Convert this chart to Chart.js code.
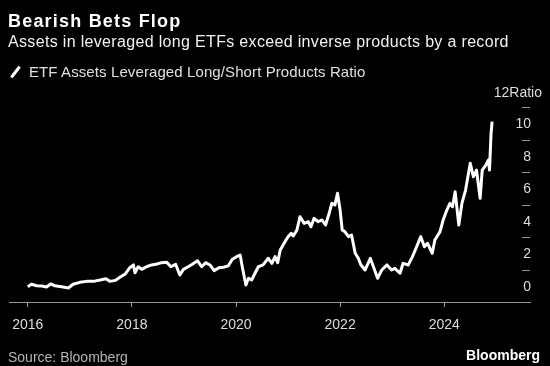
<!DOCTYPE html>
<html>
<head>
<meta charset="utf-8">
<script src="https://cdn.jsdelivr.net/npm/chart.js@4"></script>
<style>
  html,body{margin:0;padding:0;background:#000;}
  #wrap{position:relative;width:550px;height:366px;overflow:hidden;font-family:"Liberation Sans",Arial,sans-serif;}
  #chart{position:absolute;left:0;top:0;}
  .txt{position:absolute;white-space:nowrap;}
  #title{left:8px;top:12px;font-size:18px;line-height:18px;font-weight:bold;color:#fff;letter-spacing:1.2px;}
  #sub{left:8px;top:34px;font-size:16px;line-height:16px;color:#f2f2f2;letter-spacing:0.33px;}
  #legend{left:8px;top:64px;font-size:15px;line-height:15px;color:#e0e0e0;letter-spacing:0.1px;}
  #legend i{display:inline-block;width:3px;height:14px;background:#fff;border-radius:1px;transform:rotate(38deg);margin:0 12px 0 6px;vertical-align:-2px;}
  #source{left:8px;top:350px;font-size:14px;line-height:14px;color:#b4b4b4;}
  #brand{right:10px;top:348px;font-size:14px;line-height:14px;font-weight:bold;color:#fff;}
</style>
</head>
<body>
<div id="wrap">
  <canvas id="chart" width="550" height="366"></canvas>
  <div class="txt" id="title">Bearish Bets Flop</div>
  <div class="txt" id="sub">Assets in leveraged long ETFs exceed inverse products by a record</div>
  <div class="txt" id="legend"><i></i>ETF Assets Leveraged Long/Short Products Ratio</div>
  <div class="txt" id="source">Source: Bloomberg</div>
  <div class="txt" id="brand">Bloomberg</div>
</div>
<script>
// Data (decimal years, ratio)
const dates=[2016.00,2016.07,2016.17,2016.27,2016.36,2016.44,2016.52,2016.65,2016.78,2016.87,
  2017.00,2017.13,2017.26,2017.39,2017.50,2017.58,2017.68,2017.77,2017.87,2017.96,
  2018.03,2018.06,2018.12,2018.19,2018.28,2018.38,2018.48,2018.57,2018.67,2018.75,2018.84,2018.92,2018.99,
  2019.08,2019.16,2019.26,2019.34,2019.42,2019.50,2019.58,2019.67,2019.76,2019.85,2019.93,
  2020.01,2020.08,2020.12,2020.19,2020.24,2020.30,2020.37,2020.43,2020.52,2020.62,2020.69,2020.75,2020.80,2020.85,2020.94,
  2021.00,2021.06,2021.10,2021.17,2021.23,2021.31,2021.39,2021.44,2021.50,2021.58,2021.65,2021.72,2021.79,2021.84,2021.90,2021.95,
  2022.00,2022.04,2022.09,2022.16,2022.22,2022.29,2022.35,2022.40,2022.48,2022.58,2022.64,2022.72,2022.80,2022.90,2022.99,
  2023.05,2023.15,2023.21,2023.31,2023.39,2023.47,2023.55,2023.62,2023.68,2023.77,2023.82,2023.92,2023.98,
  2024.05,2024.11,2024.16,2024.21,2024.28,2024.34,2024.41,2024.50,2024.56,2024.62,2024.69,2024.73,2024.80,2024.85,2024.87,2024.90,2024.92];
const ratio=[0.94,1.09,1.00,0.98,0.92,1.11,1.00,0.94,0.86,1.09,
  1.21,1.27,1.27,1.35,1.43,1.27,1.33,1.52,1.72,2.11,
  2.28,1.80,2.17,2.01,2.17,2.28,2.34,2.42,2.44,2.17,2.32,1.66,2.01,
  2.17,2.32,2.54,2.17,2.42,2.28,1.93,2.11,2.14,2.22,2.63,
  2.79,2.89,2.17,1.05,1.46,1.35,1.80,2.17,2.28,2.69,2.38,2.79,2.42,3.20,3.71,
  4.02,4.23,4.06,4.43,5.25,4.84,4.94,4.63,5.15,4.94,5.05,4.74,5.46,6.07,5.97,6.69,
  5.66,4.43,4.33,4.02,4.12,3.00,2.69,2.28,1.97,2.69,2.17,1.46,1.97,2.28,1.97,
  2.07,1.77,2.38,2.28,2.79,3.40,4.02,3.40,3.61,3.00,3.82,4.33,5.05,
  5.66,6.07,5.86,6.79,4.74,6.07,6.89,8.54,7.71,8.12,6.38,8.12,8.43,8.74,8.12,10.38,11.10];
const xTicks=[2016,2018,2020,2022,2024];
const yTicks=[0,2,4,6,8,10,12];
const yUnit='Ratio';

const axisGray='#9a9a9a';
const labelGray='#dcdcdc';
const font={family:'"Liberation Sans", Arial, sans-serif',size:14};

// short grid stubs and unit label at the right
const rightAxis={
  id:'rightAxis',
  afterDraw(chart){
    const {ctx,chartArea,scales:{y}}=chart;
    ctx.save();
    ctx.strokeStyle=axisGray;ctx.lineWidth=1;
    yTicks.forEach(v=>{
      if(v===0) return;
      const py=Math.round(y.getPixelForValue(v))+0.5;
      ctx.beginPath();ctx.moveTo(chartArea.right-8,py);ctx.lineTo(chartArea.right,py);ctx.stroke();
    });
    const top=yTicks[yTicks.length-1];
    ctx.fillStyle=labelGray;ctx.font='14px "Liberation Sans", Arial, sans-serif';
    ctx.textAlign='right';ctx.textBaseline='middle';
    ctx.fillText(top+yUnit,chartArea.right+12,y.getPixelForValue(top)-14);
    ctx.restore();
  }
};

const ctx=document.getElementById('chart').getContext('2d');
new Chart(ctx,{
  type:'line',
  data:{datasets:[{
    data:dates.map((d,i)=>({x:d,y:ratio[i]})),
    borderColor:'#ffffff',borderWidth:3,pointRadius:0,tension:0,borderJoinStyle:'round'
  }]},
  options:{
    responsive:false,animation:false,devicePixelRatio:1,
    layout:{padding:{top:107,left:9,right:20,bottom:0}},
    plugins:{legend:{display:false},tooltip:{enabled:false}},
    scales:{
      x:{
        type:'linear',min:2015.639,max:2025.648,
        afterBuildTicks:s=>{s.ticks=xTicks.map(v=>({value:v}));},
        afterFit:s=>{s.height=64;},
        grid:{display:true,drawOnChartArea:false,drawTicks:true,tickLength:5,color:axisGray},
        border:{display:true,color:axisGray,width:1},
        ticks:{color:labelGray,font:font,padding:10,maxRotation:0,callback:v=>String(v)}
      },
      y:{
        position:'right',min:0,max:12,
        afterBuildTicks:s=>{s.ticks=yTicks.map(v=>({value:v}));},
        afterFit:s=>{s.width=0;},
        grid:{display:false},
        border:{display:false},
        ticks:{mirror:true,padding:1,labelOffset:-15,color:labelGray,font:font,
          callback:v=>v===yTicks[yTicks.length-1]?'':String(v)}
      }
    }
  },
  plugins:[rightAxis]
});
</script>
</body>
</html>
